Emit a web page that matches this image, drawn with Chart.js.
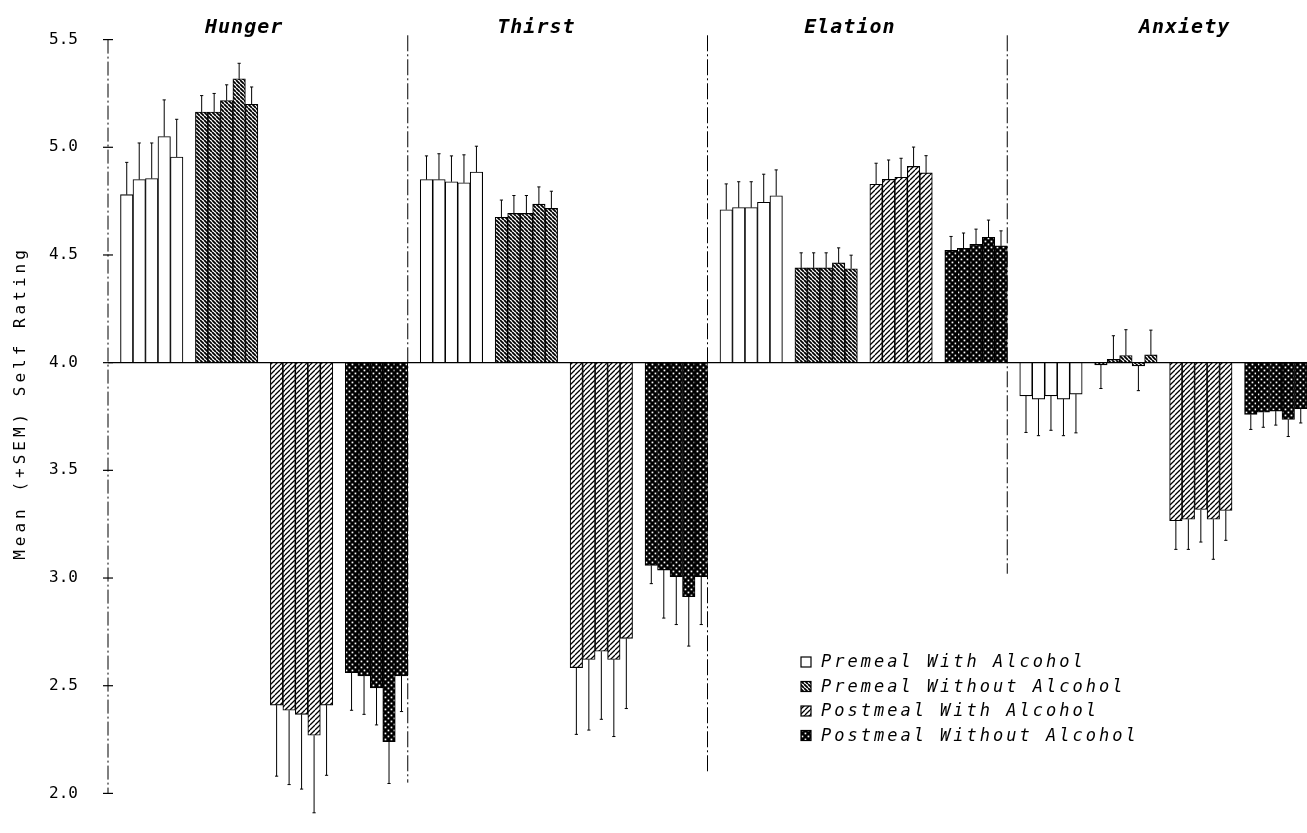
<!DOCTYPE html>
<html>
<head>
<meta charset="utf-8">
<script src="https://cdn.jsdelivr.net/npm/chart.js@4.4.1/dist/chart.umd.min.js"></script>
<style>
html,body{margin:0;padding:0;background:#fff;overflow:hidden;}
#wrap{position:relative;width:1307px;height:833px;}
</style>
</head>
<body>
<div id="wrap"><canvas id="c"></canvas></div>
<script>
// ---------- DATA ----------
const panels = ['Hunger', 'Thirst', 'Elation', 'Anxiety'];
const conditions = ['Premeal With Alcohol', 'Premeal Without Alcohol', 'Postmeal With Alcohol', 'Postmeal Without Alcohol'];
const yTicks = [2.0, 2.5, 3.0, 3.5, 4.0, 4.5, 5.0, 5.5];
const yTitle = 'Mean (+SEM) Self Rating';
const baseline = 4.0;

// 5 bars per panel, panels in order Hunger, Thirst, Elation, Anxiety
const premealWith = [
  4.78, 4.85, 4.855, 5.05, 4.955,
  4.85, 4.85, 4.84, 4.835, 4.885,
  4.71, 4.72, 4.72, 4.745, 4.775,
  3.846, 3.831, 3.846, 3.831, 3.854
];
const premealWithSEM = [
  0.15, 0.17, 0.165, 0.17, 0.175,
  0.11, 0.12, 0.12, 0.13, 0.12,
  0.12, 0.12, 0.12, 0.13, 0.12,
  0.17, 0.17, 0.16, 0.17, 0.18
];
const premealWithout = [
  5.164, 5.164, 5.217, 5.318, 5.20,
  4.675, 4.693, 4.693, 4.736, 4.716,
  4.44, 4.44, 4.44, 4.463, 4.436,
  3.99, 4.015, 4.033, 3.985, 4.036
];
const premealWithoutSEM = [
  0.076, 0.086, 0.073, 0.072, 0.08,
  0.08, 0.083, 0.083, 0.08, 0.08,
  0.07, 0.07, 0.07, 0.07, 0.063,
  0.11, 0.11, 0.12, 0.115, 0.115
];
const postmealWith = [
  2.41, 2.386, 2.367, 2.27, 2.41,
  2.584, 2.622, 2.66, 2.622, 2.72,
  4.828, 4.851, 4.861, 4.911, 4.881,
  3.266, 3.273, 3.318, 3.273, 3.314
];
const postmealWithSEM = [
  0.33, 0.345, 0.347, 0.36, 0.326,
  0.31, 0.328, 0.316, 0.358, 0.326,
  0.098, 0.09, 0.088, 0.09, 0.08,
  0.133, 0.14, 0.151, 0.186, 0.139
];
const postmealWithout = [
  2.56, 2.545, 2.49, 2.24, 2.545,
  3.059, 3.037, 3.006, 2.914, 3.006,
  4.522, 4.531, 4.549, 4.582, 4.542,
  3.76, 3.77, 3.775, 3.736, 3.786
];
const postmealWithoutSEM = [
  0.174, 0.178, 0.172, 0.194, 0.165,
  0.085, 0.223, 0.222, 0.23, 0.222,
  0.064, 0.071, 0.071, 0.08, 0.07,
  0.07, 0.07, 0.065, 0.079, 0.066
];

const seriesValues = [premealWith, premealWithout, postmealWith, postmealWithout];
const seriesSEM = [premealWithSEM, premealWithoutSEM, postmealWithSEM, postmealWithoutSEM];

// ---------- SLOT LAYOUT (category axis) ----------
// per panel: [gap, 5 bars, gap, 5 bars, gap, 5 bars, gap, 5 bars] = 24 slots
const BARS = 5, SLOTS_PER_PANEL = 24;
const slotLabels = [];
const slotMap = [];
panels.forEach((p, pi) => {
  for (let r = 0; r < SLOTS_PER_PANEL; r++) {
    if (r === 0 || (r - 1) % 6 === 5) { slotLabels.push(''); slotMap.push(null); continue; }
    const g = Math.floor((r - 1) / 6), k = (r - 1) % 6;
    slotLabels.push(p + ' ' + conditions[g] + ' ' + (k + 1));
    slotMap.push({ g, idx: pi * BARS + k });
  }
});

// ---------- PATTERNS ----------
const canvas = document.getElementById('c');
const mainCtx = canvas.getContext('2d');
function hatch(dir, period, lw) {
  const c = document.createElement('canvas'); c.width = c.height = period;
  const x = c.getContext('2d');
  x.fillStyle = '#fff'; x.fillRect(0, 0, period, period);
  x.strokeStyle = '#000'; x.lineWidth = lw;
  x.beginPath();
  for (let o = -period; o <= period; o += period) {
    if (dir === 'back') { x.moveTo(o, 0); x.lineTo(o + period, period); }
    else { x.moveTo(o, period); x.lineTo(o + period, 0); }
  }
  x.stroke();
  return mainCtx.createPattern(c, 'repeat');
}
function dots() {
  const s = 6;
  const c = document.createElement('canvas'); c.width = c.height = s;
  const x = c.getContext('2d');
  x.fillStyle = '#000'; x.fillRect(0, 0, s, s);
  x.fillStyle = '#fff';
  x.fillRect(0.6, 0.6, 1.7, 1.7);
  x.fillRect(3.6, 3.6, 1.7, 1.7);
  return mainCtx.createPattern(c, 'repeat');
}
const fills = ['#ffffff', hatch('back', 4, 1.8), hatch('fwd', 5, 1.3), dots()];

// ---------- DATASETS ----------
const datasets = conditions.map((name, g) => ({
  label: name,
  data: slotMap.map(m => (m && m.g === g) ? seriesValues[g][m.idx] : null),
  sem: slotMap.map(m => (m && m.g === g) ? seriesSEM[g][m.idx] : null),
  backgroundColor: fills[g],
  borderColor: '#000',
  borderWidth: 1.1,
  borderSkipped: 'start',
  base: baseline,
  grouped: false,
  barPercentage: 1,
  categoryPercentage: 1
}));

// ---------- DECORATION PLUGIN ----------
const decor = {
  id: 'decor',
  afterDatasetsDraw(chart, args, opts) {
    const { ctx, chartArea: ca, scales: { x, y } } = chart;
    ctx.save();
    ctx.strokeStyle = '#000';
    ctx.lineWidth = 1.4; ctx.setLineDash([]);
    const yb = y.getPixelForValue(baseline);
    ctx.beginPath(); ctx.moveTo(ca.left, yb); ctx.lineTo(ca.right, yb); ctx.stroke();
    ctx.lineWidth = 1;
    chart.data.datasets.forEach((ds, di) => {
      const meta = chart.getDatasetMeta(di);
      meta.data.forEach((el, i) => {
        const v = ds.data[i]; if (v == null) return;
        const e = ds.sem[i];
        const end = v >= baseline ? v + e : v - e;
        const y0 = y.getPixelForValue(v), y1 = y.getPixelForValue(end);
        ctx.beginPath();
        ctx.moveTo(el.x, y0); ctx.lineTo(el.x, y1);
        ctx.moveTo(el.x - 1.6, y1); ctx.lineTo(el.x + 1.6, y1);
        ctx.stroke();
      });
    });
    ctx.lineWidth = 1;
    ctx.setLineDash([14, 3, 2, 3]);
    const yTop = y.getPixelForValue(yTicks[yTicks.length - 1]);
    const yBot = y.getPixelForValue(yTicks[0]);
    ctx.beginPath(); ctx.moveTo(ca.left, yTop); ctx.lineTo(ca.left, yBot); ctx.stroke();
    ctx.setLineDash([]);
    ctx.lineWidth = 1.2;
    yTicks.forEach(v => {
      const py = y.getPixelForValue(v);
      ctx.beginPath(); ctx.moveTo(ca.left - 5, py); ctx.lineTo(ca.left + 5, py); ctx.stroke();
    });
    ctx.lineWidth = 1;
    ctx.setLineDash([16, 3, 2, 3]);
    opts.dividerBottoms.forEach((bv, i) => {
      const px = x.getPixelForValue((i + 1) * SLOTS_PER_PANEL - 0.5);
      ctx.beginPath();
      ctx.moveTo(px, y.getPixelForValue(opts.dividerTop));
      ctx.lineTo(px, y.getPixelForValue(bv));
      ctx.stroke();
    });
    ctx.restore();
  },
  afterDraw(chart, args, opts) {
    const { ctx, scales: { x } } = chart;
    ctx.save();
    ctx.fillStyle = '#000';
    ctx.font = 'italic bold 20px "DejaVu Sans Mono"';
    ctx.letterSpacing = '1px';
    ctx.textAlign = 'center'; ctx.textBaseline = 'middle';
    panels.forEach((p, i) => {
      ctx.fillText(p, x.getPixelForValue(opts.titleSlots[i]), opts.titleY);
    });
    ctx.font = '16px "DejaVu Sans Mono"';
    ctx.letterSpacing = '4px';
    ctx.save();
    ctx.translate(opts.yTitleX, opts.yTitleY);
    ctx.rotate(-Math.PI / 2);
    ctx.fillText(yTitle, 0, 0);
    ctx.restore();
    ctx.font = 'italic 17px "DejaVu Sans Mono"';
    ctx.letterSpacing = '3px';
    ctx.textAlign = 'left';
    conditions.forEach((name, g) => {
      const ry = opts.legendY + g * opts.legendRow;
      ctx.fillStyle = fills[g];
      ctx.fillRect(opts.legendX, ry - 5, 10, 10);
      ctx.strokeStyle = '#000'; ctx.lineWidth = 1.2;
      ctx.strokeRect(opts.legendX, ry - 5, 10, 10);
      ctx.fillStyle = '#000';
      ctx.fillText(name, opts.legendX + 20, ry + 1);
    });
    ctx.restore();
  }
};

new Chart(canvas, {
  type: 'bar',
  data: { labels: slotLabels, datasets },
  options: {
    responsive: true,
    maintainAspectRatio: false,
    animation: false,
    layout: { padding: { top: 38, bottom: 23, left: 0, right: 0 } },
    scales: {
      x: { type: 'category', display: false, offset: true, grid: { display: false } },
      y: {
        min: 2, max: 5.5,
        afterFit(s) { s.width = 108; },
        afterBuildTicks(s) { s.ticks = yTicks.map(v => ({ value: v })); },
        border: { display: false },
        grid: { display: false, drawTicks: false },
        ticks: {
          color: '#000', padding: 30, autoSkip: false,
          font: { family: 'DejaVu Sans Mono', size: 16 },
          callback: v => Number(v).toFixed(1)
        }
      }
    },
    plugins: {
      legend: { display: false },
      tooltip: { enabled: false },
      decor: {
        dividerTop: 5.52,
        dividerBottoms: [2.05, 2.1, 3.02],
        titleSlots: [10.4, 33.8, 58.9, 85.7],
        titleY: 28,
        yTitleX: 21, yTitleY: 403,
        legendX: 801, legendY: 662, legendRow: 24.5
      }
    }
  },
  plugins: [decor]
});
</script>
</body>
</html>
